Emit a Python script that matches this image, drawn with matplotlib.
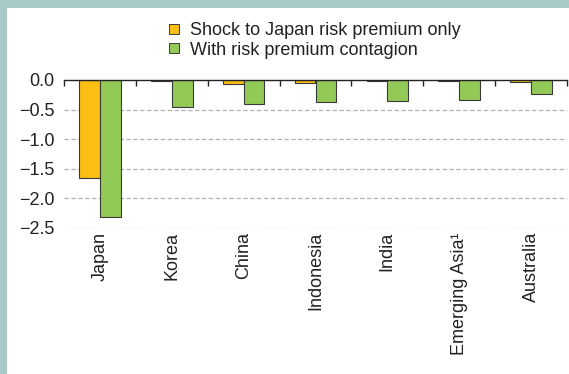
import numpy as np
import matplotlib
matplotlib.use("Agg")
import matplotlib.pyplot as plt
from matplotlib.patches import Rectangle
from matplotlib.lines import Line2D

plt.rcParams['font.family'] = ['Liberation Sans', 'DejaVu Sans']

countries = ["Japan", "Korea", "China", "Indonesia", "India", "Emerging Asia\u00b9", "Australia"]
japan_only = [-1.65, -0.01, -0.07, -0.05, -0.01, -0.02, -0.03]
contagion = [-2.32, -0.45, -0.40, -0.38, -0.36, -0.34, -0.24]
yticks = [0.0, -0.5, -1.0, -1.5, -2.0, -2.5]

col_yellow = "#fbbf14"
col_green = "#92c957"
edge = "#3a3a3a"
txt = "#222222"
fs = 13

fig = plt.figure(figsize=(5.69, 3.74), dpi=100)
fig.patch.set_facecolor("#a9c9c9")
fig.patches.append(Rectangle((7/569, 0), 1, 1 - 8/374, transform=fig.transFigure,
                             facecolor="white", edgecolor="none", zorder=-10))

ax = fig.add_axes([64/569, 1 - 228/374, 503/569, 148/374])
ax.set_facecolor("none")

x = np.arange(len(countries))
w = 0.29
ax.bar(x - w/2, japan_only, w, color=col_yellow, edgecolor=edge, linewidth=0.8, zorder=3)
ax.bar(x + w/2, contagion, w, color=col_green, edgecolor=edge, linewidth=0.8, zorder=3)

ax.set_xlim(-0.5, len(countries) - 0.5)
ax.set_ylim(-2.5, 0)
ax.set_yticks(yticks)
ax.set_yticklabels(["0.0", "\u22120.5", "\u22121.0", "\u22121.5", "\u22122.0", "\u22122.5"])
for yv in yticks[1:]:
    ax.axhline(yv, color="#b0b0b0", linestyle=(0, (3.5, 2)), linewidth=0.9, zorder=1)

for s in ["left", "right", "bottom"]:
    ax.spines[s].set_visible(False)
ax.spines["top"].set_color(txt)
ax.spines["top"].set_linewidth(1.0)
ax.spines["top"].set_zorder(4)

ax.set_xticks(x)
ax.set_xticklabels(countries, rotation=90, va="top", ha="center")
ax.set_xticks(np.arange(len(countries) + 1) - 0.5, minor=True)
ax.tick_params(axis="x", which="major", length=0, pad=3, labelsize=fs, labelcolor=txt)
ax.tick_params(axis="x", which="minor", top=True, bottom=False, direction="in",
               length=4, width=1.0, color=txt)
ax.tick_params(axis="y", length=0, pad=7, labelsize=fs, labelcolor=txt)

handles = [
    Line2D([], [], marker="s", linestyle="none", markersize=6.5,
           markerfacecolor=col_yellow, markeredgecolor=edge, markeredgewidth=0.7),
    Line2D([], [], marker="s", linestyle="none", markersize=6.5,
           markerfacecolor=col_green, markeredgecolor=edge, markeredgewidth=0.7),
]
fig.legend(handles, ["Shock to Japan risk premium only", "With risk premium contagion"],
           loc="upper left", bbox_to_anchor=(167/569, 1 - 22/374), frameon=False,
           fontsize=fs, labelcolor=txt, handlelength=0.8, handletextpad=0.5,
           labelspacing=0.15, borderpad=0, borderaxespad=0)

fig.savefig("out.png", dpi=100, facecolor=fig.get_facecolor())
